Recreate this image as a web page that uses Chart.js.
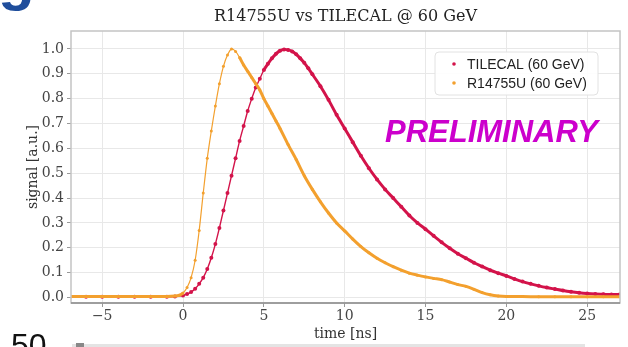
<!DOCTYPE html>
<html>
<head>
<meta charset="utf-8">
<script src="https://cdn.jsdelivr.net/npm/chart.js@4/dist/chart.umd.min.js"></script>
<style>
  html, body { margin: 0; padding: 0; background: #fff; }
  #wrap { width: 628px; height: 347px; position: relative; }
</style>
</head>
<body>
<div id="wrap"><canvas id="pulseChart" width="628" height="347"></canvas></div>
<script>
// TILECAL (60 GeV) pulse
const tileTime = [-7, -6, -5, -4, -3, -2, -1, -0.5, 0, 0.25, 0.5, 0.75, 1.0, 1.25, 1.5, 1.75, 2.0, 2.25, 2.5, 2.75,
    3.0, 3.25, 3.5, 3.75, 4.0, 4.25, 4.5, 4.75, 5.0, 5.25, 5.5, 5.75, 6.0, 6.25, 6.5, 6.75, 7.0, 7.25, 7.5, 7.75,
    8.0, 8.5, 9.0, 9.5, 10, 10.5, 11, 11.5, 12, 12.5, 13, 13.5, 14, 14.5, 15, 15.5, 16, 16.5, 17, 17.5,
    18, 18.5, 19, 19.5, 20, 20.5, 21, 21.5, 22, 22.5, 23, 23.5, 24, 24.5, 25, 25.5, 26, 26.5, 27];
const tileSignal = [0.003, 0.003, 0.003, 0.003, 0.003, 0.003, 0.003, 0.004, 0.008, 0.014, 0.022, 0.035, 0.055, 0.08, 0.115, 0.16, 0.215, 0.28, 0.35, 0.42,
    0.49, 0.56, 0.63, 0.69, 0.75, 0.80, 0.845, 0.88, 0.915, 0.94, 0.962, 0.98, 0.993, 0.998, 0.996, 0.99, 0.978, 0.962, 0.944, 0.922,
    0.898, 0.85, 0.795, 0.735, 0.68, 0.625, 0.57, 0.52, 0.475, 0.435, 0.40, 0.365, 0.33, 0.30, 0.275, 0.248, 0.222, 0.198, 0.176, 0.158,
    0.14, 0.125, 0.11, 0.098, 0.087, 0.075, 0.064, 0.055, 0.047, 0.04, 0.034, 0.028, 0.023, 0.019, 0.016, 0.014, 0.013, 0.012, 0.012];

// R14755U (60 GeV) pulse
const pmtTime = [-7, -6, -5, -4, -3, -2, -1, -0.5, -0.25, 0, 0.25, 0.5, 0.75, 1.0, 1.25, 1.5, 1.75, 2.0, 2.25, 2.5, 2.75,
    3.0, 3.25, 3.5, 3.75, 4.0, 4.25, 4.5, 4.75, 5.0, 5.25, 5.5, 5.75, 6.0, 6.5, 7.0, 7.5, 8.0, 8.5, 9.0, 9.5,
    10, 10.5, 11, 11.5, 12, 12.5, 13, 13.5, 14, 14.5, 15, 15.5, 16, 16.5, 17, 17.5, 18, 18.5, 19, 19.5,
    20, 21, 22, 23, 24, 25, 26, 27];
const pmtSignal = [0.004, 0.004, 0.004, 0.004, 0.004, 0.004, 0.004, 0.006, 0.009, 0.018, 0.04, 0.08, 0.15, 0.27, 0.42, 0.56, 0.67, 0.77, 0.86, 0.93, 0.975,
    1.0, 0.99, 0.965, 0.935, 0.91, 0.885, 0.86, 0.835, 0.80, 0.77, 0.74, 0.71, 0.68, 0.615, 0.555, 0.49, 0.435, 0.385, 0.34, 0.30,
    0.268, 0.235, 0.205, 0.18, 0.158, 0.14, 0.124, 0.11, 0.098, 0.09, 0.083, 0.077, 0.072, 0.062, 0.052, 0.045, 0.033, 0.02, 0.011, 0.006,
    0.004, 0.004, 0.003, 0.003, 0.003, 0.003, 0.003, 0.003];

const xTicks = [-5, 0, 5, 10, 15, 20, 25];
const yTicks = [0, 0.1, 0.2, 0.3, 0.4, 0.5, 0.6, 0.7, 0.8, 0.9, 1.0];

const chartTitle = 'R14755U vs TILECAL @ 60 GeV';
const tileLabel = 'TILECAL (60 GeV)';
const pmtLabel = 'R14755U (60 GeV)';
const stampText = 'PRELIMINARY';

const RED = '#d3134a';
const ORANGE = '#f3a02e';
const SERIF = "'DejaVu Serif', serif";
const SANS = "'Liberation Sans', Arial, sans-serif";

function toPoints(xs, ys) {
    return xs.map((x, i) => ({ x: x, y: ys[i] }));
}

// Title, frame, legend box, stamp and the slide leftovers
const decorations = {
    id: 'decorations',
    beforeDraw(chart) {
        const ctx = chart.ctx;
        ctx.save();
        ctx.fillStyle = '#fff';
        ctx.fillRect(0, 0, chart.width, chart.height);
        ctx.restore();
    },
    afterDraw(chart) {
        const ctx = chart.ctx;
        const a = chart.chartArea;
        ctx.save();

        // plot frame
        ctx.strokeStyle = '#c4c4c4';
        ctx.lineWidth = 1.5;
        ctx.strokeRect(a.left, a.top, a.right - a.left, a.bottom - a.top);
        ctx.strokeStyle = '#8c8c8c';
        ctx.beginPath();
        ctx.moveTo(a.left, a.bottom);
        ctx.lineTo(a.right, a.bottom);
        ctx.stroke();

        // title
        ctx.fillStyle = '#222';
        ctx.font = '16px ' + SERIF;
        ctx.textAlign = 'center';
        ctx.textBaseline = 'middle';
        ctx.fillText(chartTitle, (a.left + a.right) / 2, 17);

        // legend box
        const lx = a.right - 185, ly = a.top + 21, lw = 163, lh = 43;
        ctx.fillStyle = 'rgba(255,255,255,0.9)';
        ctx.strokeStyle = '#e2e2e2';
        ctx.lineWidth = 1;
        ctx.beginPath();
        ctx.roundRect(lx, ly, lw, lh, 4);
        ctx.fill();
        ctx.stroke();
        const entries = [[tileLabel, RED], [pmtLabel, ORANGE]];
        ctx.font = '14px ' + SANS;
        ctx.textAlign = 'left';
        entries.forEach((e, i) => {
            const cy = ly + 12 + i * 19;
            ctx.fillStyle = e[1];
            ctx.beginPath();
            ctx.arc(lx + 19, cy, 1.8, 0, Math.PI * 2);
            ctx.fill();
            ctx.fillStyle = '#222';
            ctx.fillText(e[0], lx + 32, cy + 1);
        });

        // PRELIMINARY stamp
        ctx.fillStyle = '#cc00cc';
        ctx.font = 'italic bold 31px ' + SANS;
        ctx.textBaseline = 'alphabetic';
        ctx.fillText(stampText, 385, 142);

        // bits of the surrounding slide
        ctx.fillStyle = '#1f4e9c';
        ctx.font = 'bold 60px ' + SANS;
        ctx.fillText('g', -2, -1);
        ctx.fillStyle = '#111';
        ctx.font = '32px ' + SANS;
        ctx.fillText('50', 11, 356);
        ctx.fillStyle = '#e4e4e4';
        ctx.fillRect(72, 344, 513, 3);
        ctx.fillStyle = '#888';
        ctx.fillRect(76, 343, 8, 4);

        ctx.restore();
    }
};

const ctx = document.getElementById('pulseChart').getContext('2d');
new Chart(ctx, {
    type: 'line',
    data: {
        datasets: [{
            label: tileLabel,
            data: toPoints(tileTime, tileSignal),
            borderColor: RED,
            backgroundColor: RED,
            pointRadius: 2,
            pointBorderWidth: 0,
            borderWidth: 1.4,
            segment: { borderWidth: c => (c.p0.parsed.x >= 5 ? 3 : 1.4) },
            tension: 0.3,
            fill: false,
            order: 2
        }, {
            label: pmtLabel,
            data: toPoints(pmtTime, pmtSignal),
            borderColor: ORANGE,
            backgroundColor: ORANGE,
            pointRadius: 1.5,
            pointBorderWidth: 0,
            borderWidth: 1.2,
            segment: { borderWidth: c => (c.p0.parsed.x >= 3.5 || c.p0.parsed.x < 0 ? 3 : 1.2) },
            tension: 0.3,
            fill: false,
            order: 1
        }]
    },
    options: {
        responsive: false,
        animation: false,
        layout: { padding: { top: 31, right: 8, left: 0, bottom: 0 } },
        plugins: {
            legend: { display: false },
            tooltip: { enabled: false }
        },
        scales: {
            x: {
                type: 'linear',
                min: -6.93,
                max: 27.03,
                afterFit: s => { s.height = 44; },
                afterBuildTicks: s => { s.ticks = xTicks.map(v => ({ value: v })); },
                ticks: {
                    color: '#444',
                    font: { family: SERIF, size: 14 },
                    padding: 1,
                    maxRotation: 0,
                    callback: v => (v < 0 ? '\u2212' + Math.abs(v) : String(v))
                },
                grid: { color: '#e8e8e8', tickColor: '#999', tickLength: 4 },
                border: { display: false },
                title: {
                    display: true,
                    text: 'time [ns]',
                    color: '#333',
                    font: { family: SERIF, size: 14 },
                    padding: { top: 0, bottom: 4 }
                }
            },
            y: {
                min: -0.022,
                max: 1.072,
                afterFit: s => { s.width = 71; },
                afterBuildTicks: s => { s.ticks = yTicks.map(v => ({ value: v })); },
                ticks: {
                    color: '#444',
                    font: { family: SERIF, size: 14 },
                    padding: 3,
                    callback: v => v.toFixed(1)
                },
                grid: { color: '#e8e8e8', tickColor: '#999', tickLength: 4 },
                border: { display: false },
                title: {
                    display: true,
                    text: 'signal [a.u.]',
                    color: '#333',
                    font: { family: SERIF, size: 14 },
                    padding: { top: 25, bottom: 0 }
                }
            }
        }
    },
    plugins: [decorations]
});
</script>
</body>
</html>
